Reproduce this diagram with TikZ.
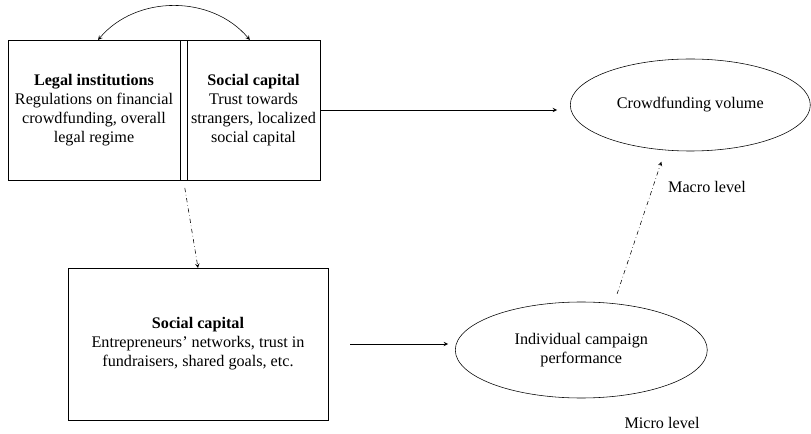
\documentclass[tikz,border=0pt]{standalone}
\usepackage{fontspec}
\setmainfont{Liberation Serif}
\usepackage{tikz}
\usetikzlibrary{shapes.geometric, arrows, positioning}
\tikzstyle{topbox} = [rectangle, minimum height=3.5cm, outer sep=0pt, align=center, draw=black, font=\fontsize{11.5}{13.5}\selectfont]
\tikzstyle{divider} = [rectangle, minimum width=0.175cm, minimum height=3.5cm, inner sep=0pt, outer sep=0pt, draw=black]
\tikzstyle{bottombox} = [rectangle, minimum width=6.5cm, minimum height=3.8cm, outer sep=0pt, align=center, draw=black, font=\fontsize{11.5}{13.5}\selectfont]
\tikzstyle{outcome} = [ellipse, align=center, draw=black, font=\fontsize{11.5}{13.5}\selectfont]
\tikzstyle{level} = [font=\fontsize{11.5}{13.5}\selectfont]
\tikzstyle{arrow} = [->,>=stealth]
\tikzstyle{linkarrow} = [<->,>=stealth]
\tikzstyle{dasharrow} = [->,>=stealth, dash dot]

\begin{document}
\begin{tikzpicture}
    \useasboundingbox (0,0) rectangle (20.275,10.825);
    %nodes
    \node (legal) [topbox, minimum width=4.3cm] at (2.35,8.075) {\textbf{Legal institutions}\\Regulations on financial\\crowdfunding, overall\\legal regime};
    \node (div) [divider, right=0pt of legal] {};
    \node (social) [topbox, minimum width=3.325cm, inner sep=1pt, right=0pt of div] {\textbf{Social capital}\\Trust towards\\strangers, localized\\social capital};
    \node (crowd) [outcome, minimum width=6cm, minimum height=2.3cm, right=6.25cm of social, yshift=0.125cm] {Crowdfunding volume};
    \node (ent) [bottombox, below=2.2cm of div, xshift=0.3625cm] {\textbf{Social capital}\\Entrepreneurs’ networks, trust in\\fundraisers, shared goals, etc.};
    \node (indiv) [outcome, minimum width=6.3cm, minimum height=2.4cm, right=3.175cm of ent, yshift=-0.15cm] {Individual campaign\\performance};
    \node (macro) [level] at (17.675,6.15) {Macro level};
    \node (micro) [level] at (16.55,0.25) {Micro level};

    %arrows
    \draw [linkarrow] ([xshift=0.1cm]legal.north) to[bend left=50] ([xshift=-0.09cm]social.north);
    \draw [arrow, shorten >=0.325cm] (social.east) -- (social.east -| crowd.west);
    \draw [dasharrow, shorten <=0.2cm] (div.south) -- (ent.north);
    \draw [arrow, shorten <=0.55cm, shorten >=0.175cm] (ent.east) -- (ent.east -| indiv.west);
    \draw [dasharrow, shorten <=0.25cm, shorten >=0.3cm] (indiv.55) -- (crowd.241);

\end{tikzpicture}
\end{document}
